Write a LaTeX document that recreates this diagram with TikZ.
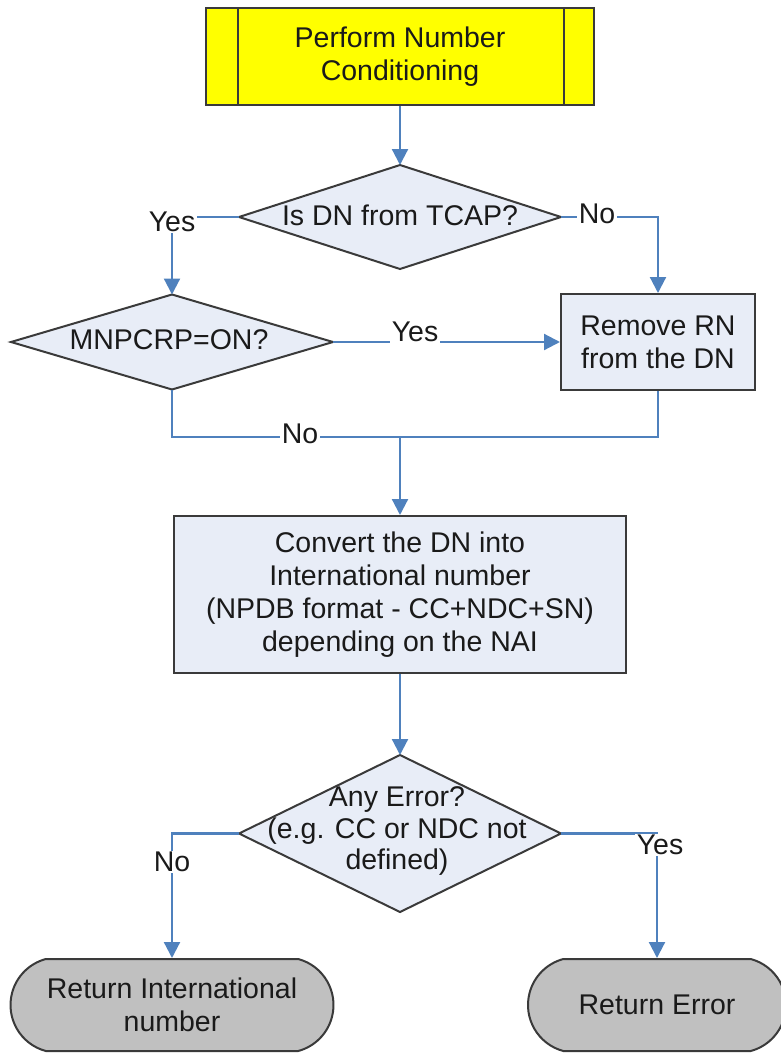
\documentclass[tikz,border=0pt]{standalone}
\usepackage{fontspec}
\setmainfont{Liberation Sans}
\usetikzlibrary{shapes.geometric,shapes.misc,arrows.meta}
\definecolor{linkblue}{HTML}{4F81BD}
\definecolor{boxfill}{HTML}{E8EDF7}
\definecolor{edgegray}{HTML}{3A3A3A}
\definecolor{termfill}{HTML}{C0C0C0}
\definecolor{procyellow}{HTML}{FFFF00}
\definecolor{txt}{HTML}{1A1A1A}
\begin{document}
\begin{tikzpicture}[x=1pt,y=-1pt,
  font=\fontsize{28.5}{33}\selectfont, text=txt,
  box/.style={rectangle, draw=edgegray, line width=2pt, fill=boxfill, inner sep=0pt, align=center},
  dec/.style={diamond, draw=edgegray, line width=2pt, fill=boxfill, inner sep=0pt, outer sep=0pt, aspect=1},
  term/.style={rounded rectangle, rounded rectangle arc length=150, draw=edgegray, line width=2pt, fill=termfill, inner sep=0pt, align=center},
  conn/.style={draw=linkblue, line width=2.2pt},
  arr/.style={conn, -{Triangle[length=16pt,width=16pt]}},
  lbl/.style={fill=white, inner sep=1.5pt}
]
\useasboundingbox (0,0) rectangle (781,1055);

% nodes
\node[box, fill=procyellow, minimum width=388pt, minimum height=97pt] (top) at (400,56.5) {Perform Number\\Conditioning};
\draw[draw=edgegray, line width=2pt] ([xshift=33pt]top.north west) -- ([xshift=33pt]top.south west);
\draw[draw=edgegray, line width=2pt] ([xshift=-31pt]top.north east) -- ([xshift=-31pt]top.south east);

\node[dec, minimum width=322pt, minimum height=104pt] (d1) at (400,217) {};
\node (d1t) at (400,215) {Is DN from TCAP?};

\node[dec, minimum width=322pt, minimum height=95pt] (d2) at (172,342) {};
\node (d2t) at (169,340) {MNPCRP=ON?};

\node[box, minimum width=194pt, minimum height=96pt] (remove) at (658,342) {Remove RN\\from the DN};

\node[box, minimum width=452pt, minimum height=157pt] (convert) at (400,594.5) {Convert the DN into\\International number\\(NPDB format - CC+NDC+SN)\\depending on the NAI};

\node[dec, minimum width=322pt, minimum height=157pt] (d3) at (400,833.5) {};
\node[align=center, font=\fontsize{28.5}{31.5}\selectfont] (d3t) at (397,831) {Any Error?\\(e.g. CC or NDC not\\defined)};

\node[term, minimum width=323pt, minimum height=92pt] (ret1) at (172,1005) {Return International\\number};
\node[term, minimum width=258pt, minimum height=92pt] (ret2) at (657,1005) {Return Error};

% connectors
\draw[arr] (top.south) -- (d1.north);
\draw[arr] (d1.west) -| (d2.north);
\draw[arr] (d1.east) -| (remove.north);
\draw[arr] (d2.east) -- (remove.west);
\coordinate (j) at (400,437);
\draw[conn] (d2.south) |- (j) -| (remove.south);
\draw[arr] (j) -- (convert.north);
\draw[arr] (convert.south) -- (d3.north);
\draw[arr] (d3.west) -| (ret1.north);
\draw[arr] (d3.east) -| (ret2.north);

% labels
\node[lbl] (l1) at (172,222) {Yes};
\node[lbl] (l2) at (597,214) {No};
\node[lbl] (l3) at (415,332) {Yes};
\node[lbl] (l4) at (300,434) {No};
\node[lbl] (l5) at (172,862) {No};
\node[lbl] (l6) at (660,845) {Yes};
\end{tikzpicture}
\end{document}
